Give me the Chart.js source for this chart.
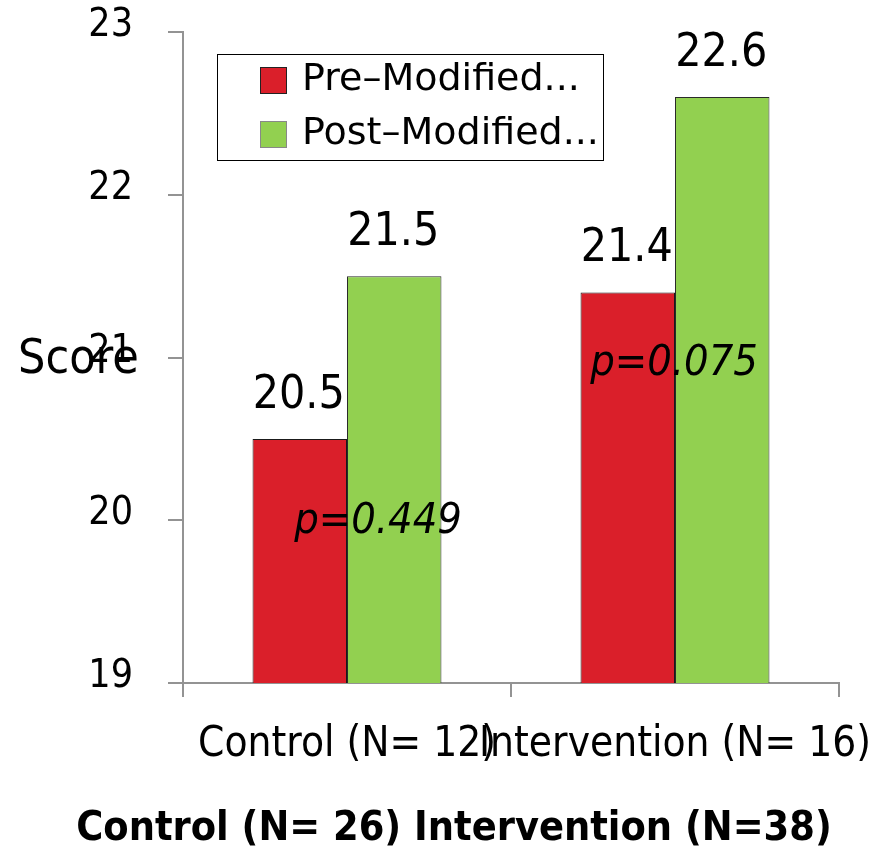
<!DOCTYPE html>
<html>
<head>
<meta charset="utf-8">
<script src="https://cdn.jsdelivr.net/npm/chart.js@4.4.1/dist/chart.umd.min.js"></script>
<style>
  html, body { margin: 0; padding: 0; background: #fff; }
  #wrap { width: 887px; height: 851px; }
</style>
</head>
<body>
<div id="wrap"><canvas id="c" width="887" height="851"></canvas></div>
<script>
// Mean scores before and after, per group
const categories = ['Control (N= 12)', 'Intervention (N= 16)'];
const seriesNames = ['Pre\u2013Modified...', 'Post\u2013Modified...'];
const preScores = [20.5, 21.4];
const postScores = [21.5, 22.6];
const pValues = ['p=0.449', 'p=0.075'];
const yTicks = [19, 20, 21, 22, 23];
const yAxisLabel = 'Score';
const groupTitle = 'Control (N= 26) Intervention (N=38)';

const RED = '#DA1F2A';
const GREEN = '#92D050';
const AXIS = '#939393';
const COND = "'DejaVu Sans Condensed', 'DejaVu Sans', sans-serif";
const REG = "'DejaVu Sans', sans-serif";

// Value labels sit behind the bars so a neighbouring bar can cover their overflow
const valueLabels = {
  id: 'valueLabels',
  beforeDatasetsDraw(chart) {
    const ctx = chart.ctx;
    ctx.save();
    ctx.font = '46px ' + COND;
    ctx.fillStyle = '#000';
    ctx.textAlign = 'center';
    ctx.textBaseline = 'alphabetic';
    chart.data.datasets.forEach((ds, di) => {
      chart.getDatasetMeta(di).data.forEach((bar, i) => {
        ctx.fillText(ds.data[i].toFixed(1), bar.x - 1, bar.y - 31);
      });
    });
    ctx.restore();
  }
};

// p-values, legend box, horizontal axis caption and group caption
const overlay = {
  id: 'overlay',
  afterDraw(chart, args, opts) {
    const ctx = chart.ctx;
    const xs = chart.scales.x, ys = chart.scales.y;
    ctx.save();
    ctx.fillStyle = '#000';

    // p-values anchored to each group
    ctx.font = 'italic 43px ' + COND;
    ctx.textAlign = 'center';
    ctx.textBaseline = 'alphabetic';
    opts.pAnchors.forEach((a, i) => {
      ctx.fillText(pValues[i], xs.getPixelForValue(i) + a.dx, ys.getPixelForValue(a.at));
    });

    // y axis caption, written horizontally
    ctx.font = '48px ' + COND;
    ctx.textAlign = 'left';
    ctx.fillText(yAxisLabel, 18, 373);

    // group caption under the axis
    ctx.font = 'bold 41px ' + COND;
    ctx.textAlign = 'center';
    ctx.textBaseline = 'middle';
    ctx.fillText(groupTitle, 454, 829);

    // legend
    const L = opts.legend;
    ctx.fillStyle = '#fff';
    ctx.fillRect(L.x, L.y, L.w, L.h);
    ctx.strokeStyle = '#000';
    ctx.lineWidth = 1;
    ctx.strokeRect(L.x + 0.5, L.y + 0.5, L.w, L.h);
    ctx.font = '38px ' + REG;
    ctx.textAlign = 'left';
    ctx.textBaseline = 'alphabetic';
    chart.data.datasets.forEach((ds, i) => {
      const top = L.y + 13 + i * 54;
      ctx.fillStyle = ds.backgroundColor;
      ctx.fillRect(L.x + 43, top, 27, 27);
      ctx.strokeStyle = i === 0 ? '#222' : '#888';
      ctx.strokeRect(L.x + 43.5, top + 0.5, 26, 26);
      ctx.fillStyle = '#000';
      ctx.fillText(ds.label, L.x + 85, top + 23);
    });
    ctx.restore();
  }
};

function build() {
  new Chart(document.getElementById('c'), {
    type: 'bar',
    data: {
      labels: categories,
      datasets: [
        { label: seriesNames[0], data: preScores, backgroundColor: RED, borderColor: '#1a1a1a', borderWidth: 1, borderSkipped: false },
        { label: seriesNames[1], data: postScores, backgroundColor: GREEN, borderColor: '#2a2a2a', borderWidth: 1, borderSkipped: false }
      ]
    },
    options: {
      responsive: false,
      devicePixelRatio: 1,
      animation: false,
      layout: { padding: { top: 32, right: 48, bottom: 0, left: 0 } },
      datasets: { bar: { barPercentage: 1, categoryPercentage: 0.576 } },
      plugins: {
        legend: { display: false },
        tooltip: { enabled: false },
        overlay: {
          pAnchors: [ { dx: 31, at: 19.92 }, { dx: -1, at: 20.89 } ],
          legend: { x: 217, y: 54, w: 386, h: 106 }
        }
      },
      scales: {
        x: {
          offset: true,
          grid: { display: true, drawOnChartArea: false, drawTicks: true, tickLength: 14, offset: true, color: AXIS, lineWidth: 2 },
          border: { display: true, color: AXIS, width: 2 },
          ticks: { autoSkip: false, maxRotation: 0, minRotation: 0, padding: 23, color: '#000', font: { family: COND, size: 42 } },
          afterFit(s) { s.height = 168; s.paddingLeft = 0; s.paddingRight = 0; }
        },
        y: {
          min: 19, max: 23,
          grid: { display: true, drawOnChartArea: false, drawTicks: true, tickLength: 15, color: AXIS, lineWidth: 2 },
          border: { display: true, color: AXIS, width: 2 },
          afterBuildTicks(s) { s.ticks = yTicks.map(v => ({ value: v })); },
          ticks: {
            padding: 35, color: '#000',
            font: { family: COND, size: 39, lineHeight: '12px' },
            // a blank second line lifts each label slightly above its tick
            callback: v => [String(v), '']
          },
          afterFit(s) { s.width = 183; s.paddingTop = 0; s.paddingBottom = 0; }
        }
      }
    },
    plugins: [valueLabels, overlay]
  });
}

if (document.fonts && document.fonts.load) {
  Promise.all([
    document.fonts.load('38px "DejaVu Sans Condensed"'),
    document.fonts.load('bold 41px "DejaVu Sans Condensed"'),
    document.fonts.load('38px "DejaVu Sans"')
  ]).then(build, build);
} else {
  build();
}
</script>
</body>
</html>
